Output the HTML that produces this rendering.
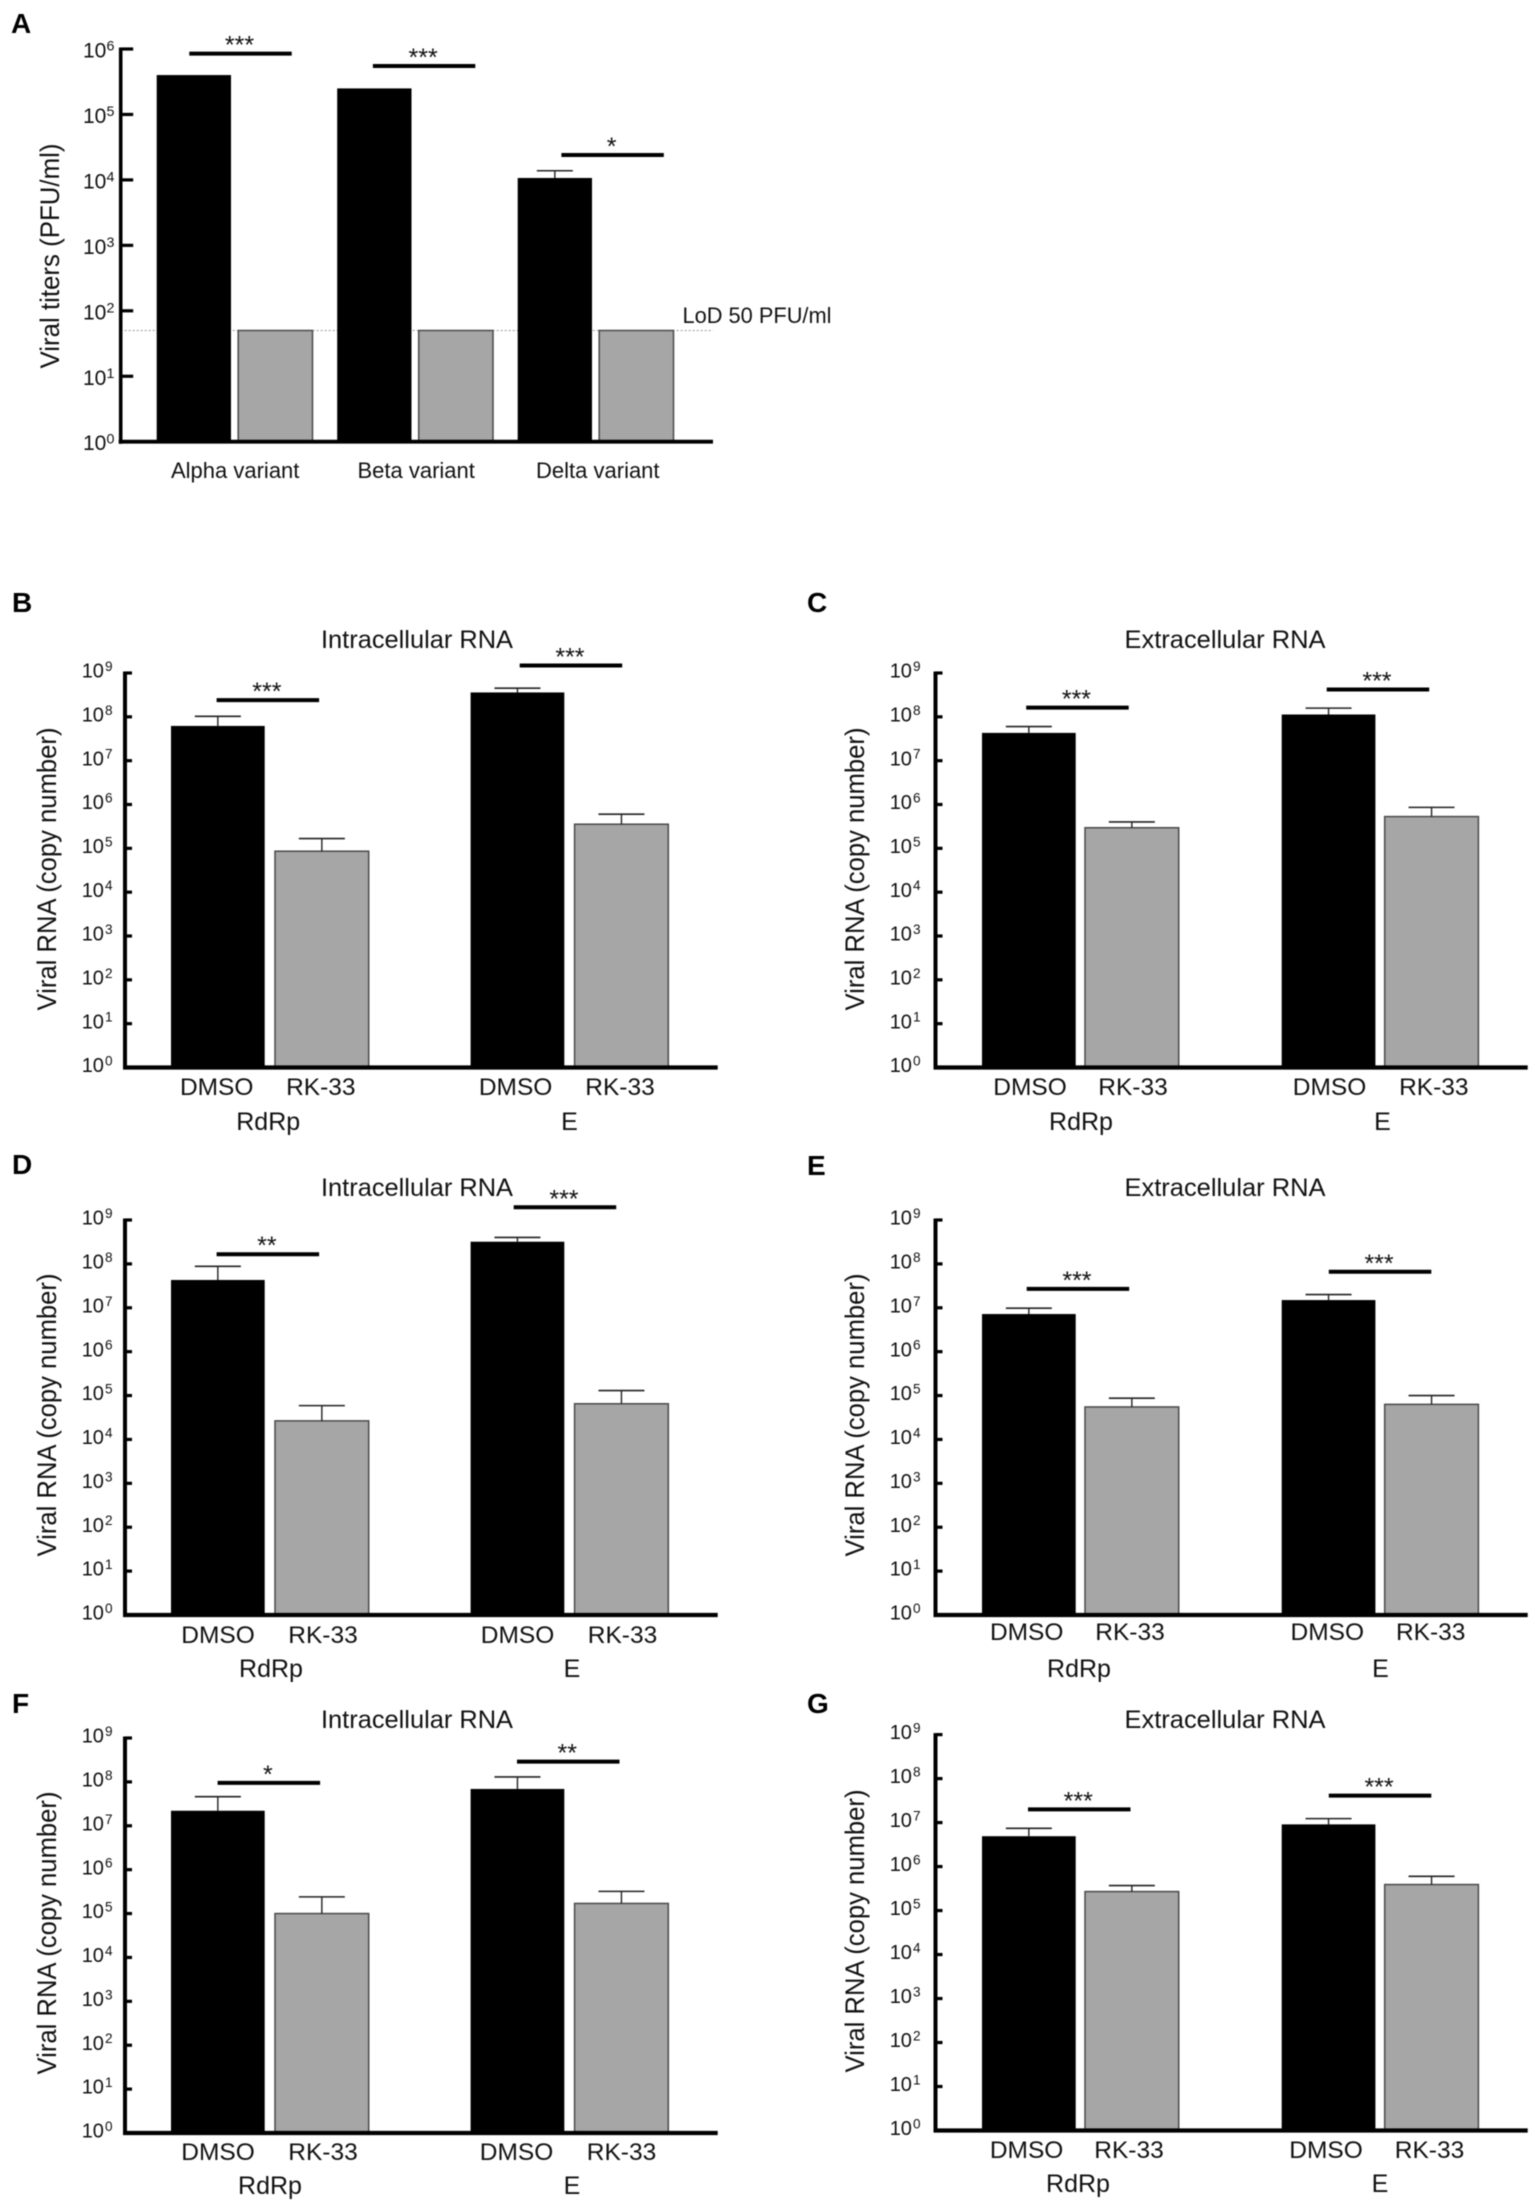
<!DOCTYPE html>
<html lang="en">
<head>
<meta charset="utf-8">
<title>Viral titers and viral RNA bar charts</title>
<style>
html,body{margin:0;padding:0;background:#fff;}
svg{display:block;filter:blur(0.45px);font-family:"Liberation Sans",Arial,sans-serif;fill:#111;}
.letter{font-weight:bold;font-size:28px;fill:#000;}
.title{font-size:25px;text-anchor:middle;}
.ytitle{font-size:27px;text-anchor:middle;}
</style>
</head>
<body>
<svg id="figure" xmlns="http://www.w3.org/2000/svg" width="1535" height="2203" viewBox="0 0 1535 2203">
<rect width="1535" height="2203" fill="#fff"/>
<text class="letter" x="11" y="33">A</text>
<text class="letter" x="12" y="612">B</text>
<text class="letter" x="807" y="612">C</text>
<text class="letter" x="12" y="1174">D</text>
<text class="letter" x="807" y="1175">E</text>
<text class="letter" x="12" y="1713">F</text>
<text class="letter" x="807" y="1713">G</text>

<text class="title" x="417" y="648" textLength="192" lengthAdjust="spacingAndGlyphs">Intracellular RNA</text>
<text class="title" x="1225" y="648" textLength="201" lengthAdjust="spacingAndGlyphs">Extracellular RNA</text>
<text class="title" x="417" y="1196" textLength="192" lengthAdjust="spacingAndGlyphs">Intracellular RNA</text>
<text class="title" x="1225" y="1196" textLength="201" lengthAdjust="spacingAndGlyphs">Extracellular RNA</text>
<text class="title" x="417" y="1728" textLength="192" lengthAdjust="spacingAndGlyphs">Intracellular RNA</text>
<text class="title" x="1225" y="1728" textLength="201" lengthAdjust="spacingAndGlyphs">Extracellular RNA</text>

<text class="ytitle" transform="translate(59,256) rotate(-90)" textLength="225" lengthAdjust="spacingAndGlyphs">Viral titers (PFU/ml)</text>
<text class="ytitle" transform="translate(56,869) rotate(-90)" textLength="283" lengthAdjust="spacingAndGlyphs">Viral RNA (copy number)</text>
<text class="ytitle" transform="translate(864,869) rotate(-90)" textLength="283" lengthAdjust="spacingAndGlyphs">Viral RNA (copy number)</text>
<text class="ytitle" transform="translate(56,1415) rotate(-90)" textLength="283" lengthAdjust="spacingAndGlyphs">Viral RNA (copy number)</text>
<text class="ytitle" transform="translate(864,1415) rotate(-90)" textLength="283" lengthAdjust="spacingAndGlyphs">Viral RNA (copy number)</text>
<text class="ytitle" transform="translate(56,1933) rotate(-90)" textLength="283" lengthAdjust="spacingAndGlyphs">Viral RNA (copy number)</text>
<text class="ytitle" transform="translate(864,1931) rotate(-90)" textLength="283" lengthAdjust="spacingAndGlyphs">Viral RNA (copy number)</text>

<text x="682.5" y="323" font-size="22" textLength="149" lengthAdjust="spacingAndGlyphs">LoD 50 PFU/ml</text>
</svg>

<script>
// ---- shared labels ----
const treatments = ['DMSO', 'RK-33'];
const targets = ['RdRp', 'E'];
const titerTickExponents = ['0', '1', '2', '3', '4', '5', '6'];
const rnaTickExponents = ['0', '1', '2', '3', '4', '5', '6', '7', '8', '9'];

// ---- panel A ----
const aCategories = ['Alpha variant', 'Beta variant', 'Delta variant'];
const aDmso = [4e5, 2.5e5, 1.07e4];
const aDmsoErr = [null, null, 1.38e4];
const aRk33 = [50, 50, 50];
const aRk33Err = [null, null, null];
const aSigLevels = [8.5e5, 5.5e5, 2.4e4];
const aSigLabels = ['***', '***', '*'];
const aLod = 50;

// ---- panel B ----
const bDmso = [6.2e7, 3.6e8];
const bDmsoErr = [1.03e8, 4.5e8];
const bRk33 = [8.6e4, 3.55e5];
const bRk33Err = [1.67e5, 6e5];
const bSigLevels = [2.4e8, 1.48e9];
const bSigLabels = ['***', '***'];

// ---- panel C ----
const cDmso = [4.3e7, 1.13e8];
const cDmsoErr = [6e7, 1.58e8];
const cRk33 = [2.95e5, 5.3e5];
const cRk33Err = [4e5, 8.6e5];
const cSigLevels = [1.62e8, 4.2e8];
const cSigLabels = ['***', '***'];

// ---- panel D ----
const dDmso = [4.3e7, 3.2e8];
const dDmsoErr = [8.8e7, 4e8];
const dRk33 = [2.65e4, 6.5e4];
const dRk33Err = [5.9e4, 1.3e5];
const dSigLevels = [1.66e8, 1.95e9];
const dSigLabels = ['**', '***'];

// ---- panel E ----
const eDmso = [7.2e6, 1.5e7];
const eDmsoErr = [9.8e6, 2e7];
const eRk33 = [5.5e4, 6.3e4];
const eRk33Err = [8.7e4, 1e5];
const eSigLevels = [2.7e7, 6.6e7];
const eSigLabels = ['***', '***'];

// ---- panel F ----
const fDmso = [2.2e7, 6.9e7];
const fDmsoErr = [4.6e7, 1.3e8];
const fRk33 = [1e5, 1.7e5];
const fRk33Err = [2.4e5, 3.2e5];
const fSigLevels = [9.5e7, 2.9e8];
const fSigLabels = ['*', '**'];

// ---- panel G ----
const gDmso = [4.9e6, 9.1e6];
const gDmsoErr = [7.4e6, 1.23e7];
const gRk33 = [2.7e5, 3.9e5];
const gRk33Err = [3.7e5, 6e5];
const gSigLevels = [2e7, 4.1e7];
const gSigLabels = ['***', '***'];

const SVG_NS = 'http://www.w3.org/2000/svg';
const figure = document.getElementById('figure');

function make(tag, parent, attrs, text) {
  const node = document.createElementNS(SVG_NS, tag);
  Object.keys(attrs).forEach(function (k) { node.setAttribute(k, attrs[k]); });
  if (text !== undefined) node.textContent = text;
  parent.appendChild(node);
  return node;
}

function drawPanel(p) {
  const g = make('g', figure, {});
  
  

  const decades = p.ticks.length - 1;
  const yScale = function (v) { return p.base - Math.log10(v) * (p.base - p.top) / decades; };
  const barX = function (group, series) { return p.barOrigin + group * p.groupStep + series * p.barStep; };

  // LoD line under the bars
  if (p.lod) {
    const lod = make('line', g, { x1: p.axisX, x2: p.right, y1: yScale(p.lod), y2: yScale(p.lod), stroke: '#999', 'stroke-width': 1, 'stroke-dasharray': '2 2' });
    
    
  }

  // bars + error bars
  p.dmso.forEach(function (v, i) {
    const x = barX(i, 0);
    const bar = make('rect', g, { x: x, y: yScale(v), width: p.barWidth, height: p.base - yScale(v), fill: '#000' });
    
    
    if (p.dmsoErr[i] !== null) {
      const cx = x + p.barWidth / 2;
      const stem = make('line', g, { x1: cx, x2: cx, y1: yScale(v), y2: yScale(p.dmsoErr[i]), stroke: '#222', 'stroke-width': 1.4 });
      
      
      const cap = make('line', g, { x1: cx - p.capHalf, x2: cx + p.capHalf, y1: yScale(p.dmsoErr[i]), y2: yScale(p.dmsoErr[i]), stroke: '#222', 'stroke-width': 1.6 });
      
      
    }
  });
  p.rk33.forEach(function (v, i) {
    const x = barX(i, 1);
    const bar = make('rect', g, { x: x, y: yScale(v), width: p.barWidth, height: p.base - yScale(v), fill: '#a6a6a6', stroke: '#4a4a4a', 'stroke-width': 1.5 });
    
    
    if (p.rk33Err[i] !== null) {
      const cx = x + p.barWidth / 2;
      const stem = make('line', g, { x1: cx, x2: cx, y1: yScale(v), y2: yScale(p.rk33Err[i]), stroke: '#222', 'stroke-width': 1.4 });
      
      
      const cap = make('line', g, { x1: cx - p.capHalf, x2: cx + p.capHalf, y1: yScale(p.rk33Err[i]), y2: yScale(p.rk33Err[i]), stroke: '#222', 'stroke-width': 1.6 });
      
      
    }
  });

  // axes
  const yAxis = make('line', g, { x1: p.axisX, x2: p.axisX, y1: p.top - 1.5, y2: p.base + 2, stroke: '#000', 'stroke-width': p.axisWidth });
  
  
  const xAxis = make('line', g, { x1: p.axisX - 2, x2: p.right, y1: p.base, y2: p.base, stroke: '#000', 'stroke-width': p.axisWidth + 0.3 });
  
  

  // ticks
  p.ticks.forEach(function (exp) {
    const y = yScale(Math.pow(10, Number(exp)));
    const tick = make('line', g, { x1: p.axisX, x2: p.axisX + p.tickLen, y1: y, y2: y, stroke: '#000', 'stroke-width': 3.2 });
    
    
    const base = make('text', g, { x: p.tickLabelX, y: y + p.tickDy, 'font-size': p.tickSize }, '10');
    
    
    const sup = make('text', g, { x: p.tickExpX, y: y + p.tickDy - p.tickSize * 0.33, 'font-size': p.tickSize * 0.68 }, exp);
    
    
  });

  // significance bars
  p.sigLevels.forEach(function (v, i) {
    const y = yScale(v);
    const bar = make('line', g, { x1: p.sigX[i], x2: p.sigX[i] + p.sigWidth, y1: y, y2: y, stroke: '#000', 'stroke-width': 4 });
    
    
    const stars = make('text', g, { x: p.sigX[i] + p.sigWidth / 2 - 1, y: y, 'font-size': 25, 'text-anchor': 'middle' }, p.sigLabels[i]);
    
    
  });

  // category labels
  if (p.barLabels) {
    p.dmso.forEach(function (_, i) {
      p.barLabels.forEach(function (name, s) {
        const t = make('text', g, { x: p.barLabelX[i][s], y: p.barLabelY, 'font-size': 24.5, 'text-anchor': 'middle' }, name);
        
        
      });
    });
  }
  p.groupLabels.forEach(function (name, i) {
    const t = make('text', g, { x: p.groupLabelX[i], y: p.groupLabelY, 'font-size': p.groupLabelSize, 'text-anchor': 'middle' }, name);
    
    
  });
}

const leftCol = { axisX: 125, right: 717.7, barOrigin: 171, groupStep: 299.6, barStep: 104, barWidth: 93.7, capHalf: 23, tickLabelX: 81.7, tickExpX: 105, tickDy: 4.6, tickSize: 20, tickLen: 7, axisWidth: 4, sigWidth: 102.5, groupLabelSize: 25 };
const rightCol = { axisX: 935.5, right: 1527.7, barOrigin: 982, groupStep: 299.7, barStep: 103, barWidth: 93.7, capHalf: 23, tickLabelX: 889.7, tickExpX: 913, tickDy: 4.6, tickSize: 20, tickLen: 7, axisWidth: 4, sigWidth: 102.5, groupLabelSize: 25 };

drawPanel({ axisX: 120.7, right: 713, top: 49, base: 441.7, ticks: titerTickExponents, barOrigin: 156.7, groupStep: 180.5, barStep: 81.5, barWidth: 74.3, capHalf: 18, tickLabelX: 83, tickExpX: 106.5, tickDy: 8.5, tickSize: 21, tickLen: 12.5, axisWidth: 3.6, sigWidth: 102.4, sigX: [189.3, 372.9, 561.4], dmso: aDmso, dmsoErr: aDmsoErr, rk33: aRk33, rk33Err: aRk33Err, sigLevels: aSigLevels, sigLabels: aSigLabels, lod: aLod, groupLabels: aCategories, groupLabelX: [235.2, 416.2, 597.8], groupLabelY: 478, groupLabelSize: 22 });

function rnaPanel(col, extra) {
  drawPanel(Object.assign({}, col, { ticks: rnaTickExponents, barLabels: treatments, groupLabels: targets }, extra));
}

rnaPanel(leftCol, { top: 673, base: 1067.5, sigX: [216.6, 519.7], dmso: bDmso, dmsoErr: bDmsoErr, rk33: bRk33, rk33Err: bRk33Err, sigLevels: bSigLevels, sigLabels: bSigLabels, barLabelX: [[216.7, 320.8], [515.6, 620]], barLabelY: 1095, groupLabelX: [268.2, 569.5], groupLabelY: 1130 });
rnaPanel(rightCol, { top: 673, base: 1067.5, sigX: [1026.2, 1326.7], dmso: cDmso, dmsoErr: cDmsoErr, rk33: cRk33, rk33Err: cRk33Err, sigLevels: cSigLevels, sigLabels: cSigLabels, barLabelX: [[1030, 1133], [1329.5, 1433.8]], barLabelY: 1095, groupLabelX: [1081, 1382.5], groupLabelY: 1130 });
rnaPanel(leftCol, { top: 1220, base: 1615, sigX: [216.6, 513.7], dmso: dDmso, dmsoErr: dDmsoErr, rk33: dRk33, rk33Err: dRk33Err, sigLevels: dSigLevels, sigLabels: dSigLabels, barLabelX: [[218, 323], [517.5, 622.5]], barLabelY: 1643, groupLabelX: [271, 572], groupLabelY: 1677 });
rnaPanel(rightCol, { top: 1220, base: 1615, sigX: [1026.7, 1328.8], dmso: eDmso, dmsoErr: eDmsoErr, rk33: eRk33, rk33Err: eRk33Err, sigLevels: eSigLevels, sigLabels: eSigLabels, barLabelX: [[1026.7, 1130], [1327.3, 1430.7]], barLabelY: 1640, groupLabelX: [1079, 1380.5], groupLabelY: 1677 });
rnaPanel(leftCol, { top: 1738, base: 2133, sigX: [217.6, 517], dmso: fDmso, dmsoErr: fDmsoErr, rk33: fRk33, rk33Err: fRk33Err, sigLevels: fSigLevels, sigLabels: fSigLabels, barLabelX: [[218, 323], [516.5, 621.5]], barLabelY: 2160, groupLabelX: [270, 572], groupLabelY: 2194 });
rnaPanel(rightCol, { top: 1734.6, base: 2130.5, sigX: [1028, 1328.8], dmso: gDmso, dmsoErr: gDmsoErr, rk33: gRk33, rk33Err: gRk33Err, sigLevels: gSigLevels, sigLabels: gSigLabels, barLabelX: [[1026.6, 1129], [1326, 1429.5]], barLabelY: 2158, groupLabelX: [1078, 1380], groupLabelY: 2192 });
</script>
</body>
</html>
